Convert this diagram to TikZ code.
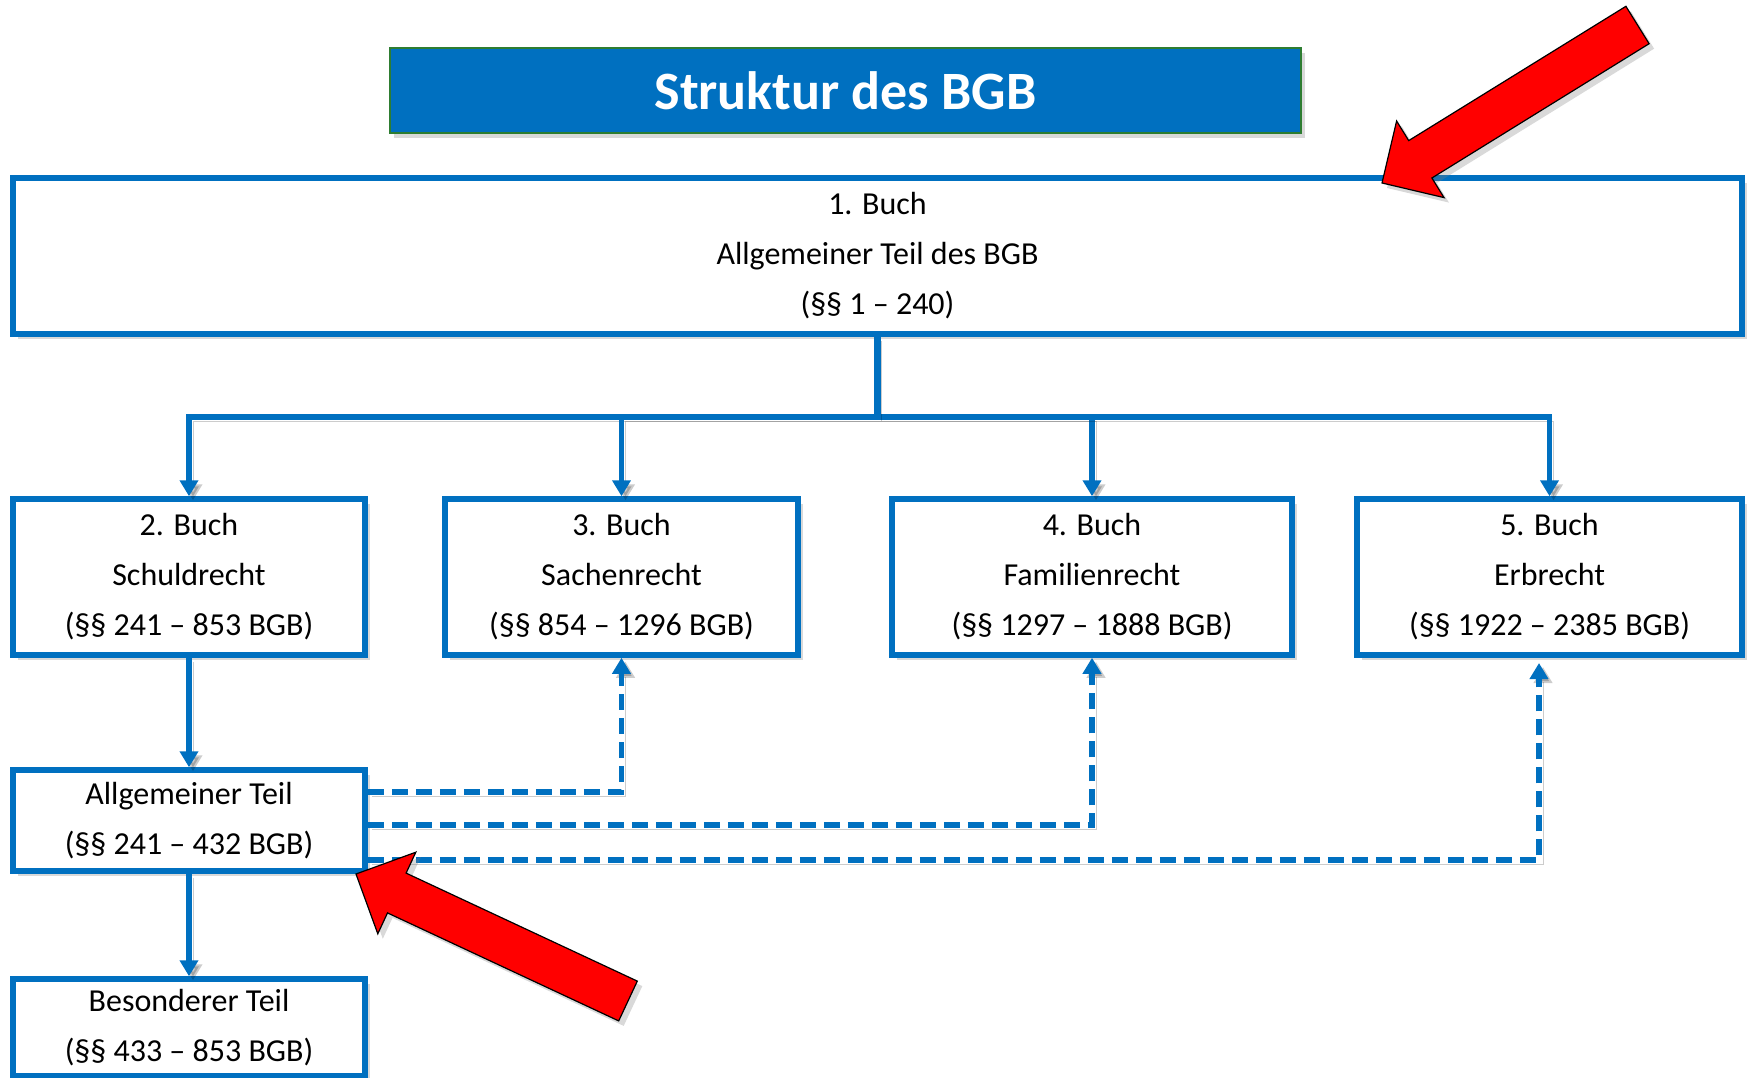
\documentclass[tikz,border=0pt]{standalone}
\usepackage{fontspec}
\setmainfont{Carlito}
\usetikzlibrary{arrows.meta,shadows,calc}
\definecolor{bblue}{HTML}{0070C0}
\definecolor{tgreen}{HTML}{2E7D32}
\definecolor{ared}{HTML}{FF0000}
\begin{document}
\begin{tikzpicture}[x=1pt,y=1pt,
  lshadow/.style={preaction={draw=black,opacity=0.2,transform canvas={shift={(4pt,-4pt)}}}},
  box/.style={draw=bblue, line width=5.5pt, fill=white, inner sep=0pt, align=center,
    font=\fontsize{32}{50}\selectfont,
    drop shadow={shadow xshift=5pt, shadow yshift=-5pt, opacity=0.3}},
  titlebox/.style={draw=tgreen, line width=2.5pt, fill=bblue, text=white, inner sep=0pt,
    font=\fontsize{54}{60}\selectfont\bfseries,
    drop shadow={shadow xshift=4pt, shadow yshift=-5pt, opacity=0.3}},
  conn/.style={draw=bblue, line width=5.5pt, lshadow, -{Triangle[width=18pt,length=16pt]}},
  stemline/.style={draw=bblue, line width=6.5pt, lshadow},
  dconn/.style={conn, dash pattern=on 16pt off 8pt},
  redarrow/.style={fill=ared, draw=black, line width=1.2pt, line join=miter,
    drop shadow={shadow xshift=5pt, shadow yshift=-5pt, opacity=0.3}}
]
\useasboundingbox (0,0) rectangle (1747,-1078);

\node[titlebox, minimum width=911pt, minimum height=85pt] (title) at (845.5,-90.5) {Struktur des BGB};

\node[box, minimum width=1729pt, minimum height=156pt] (top) at (877.5,-256)
  {1. Buch\\Allgemeiner Teil des BGB\\(§§ 1 – 240)};

\node[box, minimum width=352pt, minimum height=156pt] (b2) at (189,-577)
  {2. Buch\\Schuldrecht\\(§§ 241 – 853 BGB)};
\node[box, minimum width=353pt, minimum height=156pt] (b3) at (621.5,-577)
  {3. Buch\\Sachenrecht\\(§§ 854 – 1296 BGB)};
\node[box, minimum width=400pt, minimum height=156pt] (b4) at (1092,-577)
  {4. Buch\\Familienrecht\\(§§ 1297 – 1888 BGB)};
\node[box, minimum width=385pt, minimum height=156pt] (b5) at (1549.5,-577)
  {5. Buch\\Erbrecht\\(§§ 1922 – 2385 BGB)};

\node[box, minimum width=352pt, minimum height=101pt] (at) at (189,-820.5)
  {Allgemeiner Teil\\(§§ 241 – 432 BGB)};
\node[box, minimum width=352pt, minimum height=97pt] (bt) at (189,-1027.5)
  {Besonderer Teil\\(§§ 433 – 853 BGB)};

% connectors from book 1
\coordinate (bar) at ($(top.south)+(0,-80)$);
\draw[conn] (bar) -| (b2.north);
\draw[conn] (bar) -| (b3.north);
\draw[conn] (bar) -| (b4.north);
\draw[conn] (bar) -| (b5.north);
\draw[stemline] (top.south) -- (bar);

% Schuldrecht chain
\draw[conn] (b2.south) -- (at.north);
\draw[conn] (at.south) -- (bt.north);

% dashed references
\coordinate (e5) at (1539,-663);
\draw[dconn] ([yshift=28.5pt]at.east) -| (b3.south);
\draw[dconn] ([yshift=-4.5pt]at.east) -| (b4.south);
\draw[dconn] ([yshift=-39.5pt]at.east) -| (e5);

% red arrows
\draw[redarrow] (1625.9,-6.3) -- (1408.7,-140.6) -- (1396.6,-121.0) -- (1382,-183)
  -- (1444.0,-197.6) -- (1431.9,-178.0) -- (1649.1,-43.7) -- cycle;
\draw[redarrow] (637.3,-981.1) -- (406.1,-873.1) -- (415.8,-852.2) -- (356,-874)
  -- (377.8,-933.8) -- (387.5,-912.9) -- (618.7,-1020.9) -- cycle;
\end{tikzpicture}
\end{document}
